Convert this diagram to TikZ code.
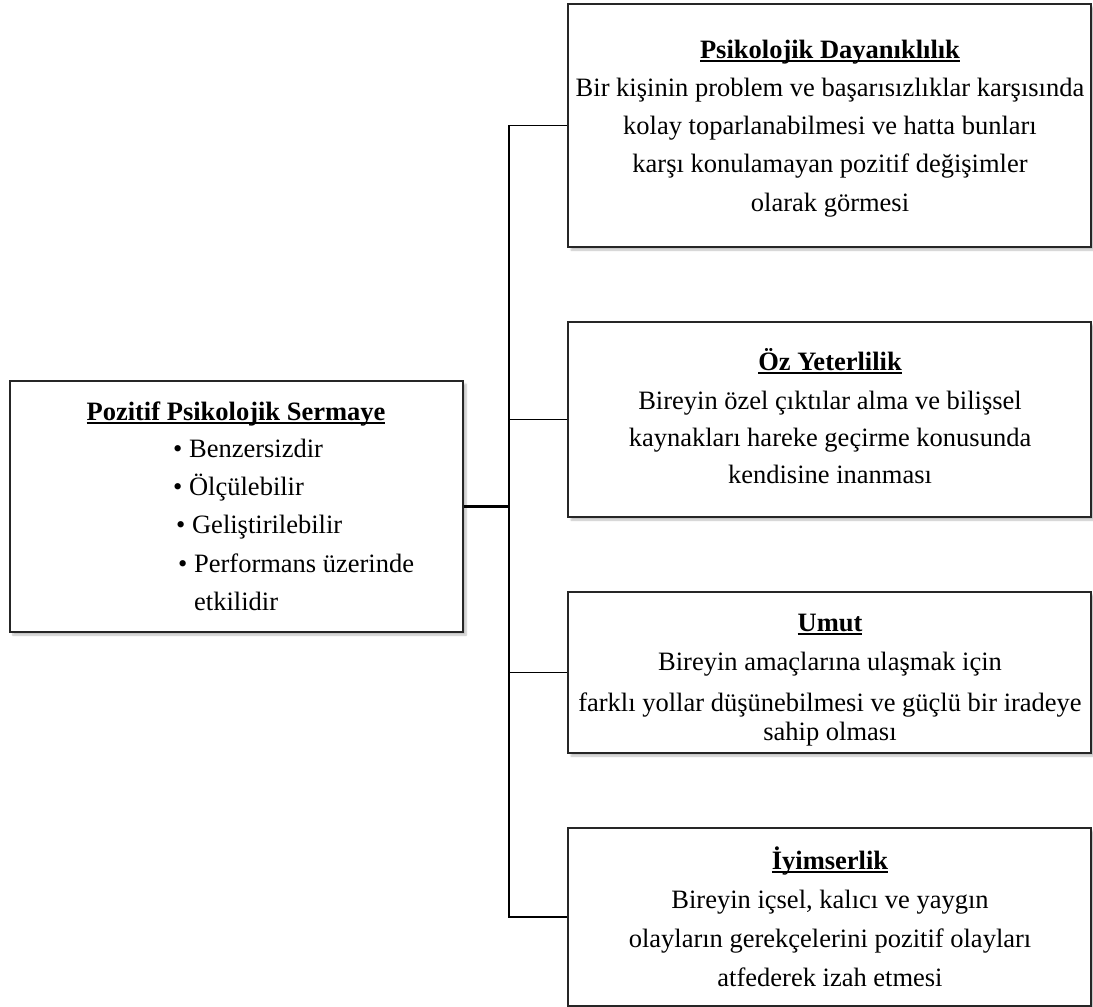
\documentclass[tikz,border=0pt]{standalone}
\usepackage{fontspec}
\setmainfont{Liberation Serif}
\usetikzlibrary{shadows.blur}
\newcommand\ulin[1]{\setbox0\hbox{#1}\rlap{\rule[-3.8pt]{\wd0}{1.4pt}}\box0}
\tikzset{
  box/.style={draw=black!85, line width=1.8pt, fill=white, rectangle, inner sep=0pt,
    blur shadow={shadow xshift=3pt, shadow yshift=-3pt, shadow blur steps=6, shadow opacity=25}},
  txt/.style={anchor=base, inner sep=0pt, font=\fontsize{26.5}{32}\selectfont},
  txtl/.style={anchor=base west, inner sep=0pt, font=\fontsize{26.5}{32}\selectfont},
  ttl/.style={anchor=base, inner sep=0pt, font=\fontsize{26.5}{32}\selectfont\bfseries},
  conn/.style={draw=black, line width=1.8pt},
}
\begin{document}
\begin{tikzpicture}[x=1pt,y=-1pt]
\useasboundingbox (0,0) rectangle (1093,1007);
% boxes
\node[box, minimum width=453pt, minimum height=251pt] (L) at (236.5,506.5) {};
\node[box, minimum width=523pt, minimum height=243pt] (B1) at (829.5,125.5) {};
\node[box, minimum width=523pt, minimum height=195pt] (B2) at (829.5,419.5) {};
\node[box, minimum width=523pt, minimum height=161pt] (B3) at (829.5,672.5) {};
\node[box, minimum width=523pt, minimum height=178pt] (B4) at (829.5,917) {};
% connectors
\coordinate (j0) at (509,506.5);
\coordinate (j1) at (B1.west -| j0);
\coordinate (j2) at (B2.west -| j0);
\coordinate (j3) at (B3.west -| j0);
\coordinate (j4) at (B4.west -| j0);
\draw[conn, line width=2.6pt] (L.east) -- (j0);
\draw[conn, line cap=rect] (j1) -- (j4);
\draw[conn] (j1) -- (B1.west);
\draw[conn] (j2) -- (B2.west);
\draw[conn] (j3) -- (B3.west);
\draw[conn] (j4) -- (B4.west);
% left box text
\node[ttl] (Lt) at (236,420) {\ulin{Pozitif Psikolojik Sermaye}};
\node[txtl] (L1) at (173,457) {• Benzersizdir};
\node[txtl] (L2) at (173,495) {• Ölçülebilir};
\node[txtl] (L3) at (176,533) {• Geliştirilebilir};
\node[txtl] (L4) at (178,572) {• Performans üzerinde};
\node[txtl] (L5) at (194,610) {etkilidir};
% box 1
\node[ttl] (B1t) at (830,58) {\ulin{Psikolojik Dayanıklılık}};
\node[txt] (B1a) at (830,96) {Bir kişinin problem ve başarısızlıklar karşısında};
\node[txt] (B1b) at (830,134) {kolay toparlanabilmesi ve hatta bunları};
\node[txt] (B1c) at (830,172) {karşı konulamayan pozitif değişimler};
\node[txt] (B1d) at (830,211) {olarak görmesi};
% box 2
\node[ttl] (B2t) at (830,370) {\ulin{Öz Yeterlilik}};
\node[txt] (B2a) at (830,409) {Bireyin özel çıktılar alma ve bilişsel};
\node[txt] (B2b) at (830,446) {kaynakları hareke geçirme konusunda};
\node[txt] (B2c) at (830,483) {kendisine inanması};
% box 3
\node[ttl] (B3t) at (830,631) {\ulin{Umut}};
\node[txt] (B3a) at (830,670) {Bireyin amaçlarına ulaşmak için};
\node[txt] (B3b) at (830,711) {farklı yollar düşünebilmesi ve güçlü bir iradeye};
\node[txt] (B3c) at (830,740) {sahip olması};
% box 4
\node[ttl] (B4t) at (830,869) {\ulin{İyimserlik}};
\node[txt] (B4a) at (830,908) {Bireyin içsel, kalıcı ve yaygın};
\node[txt] (B4b) at (830,947) {olayların gerekçelerini pozitif olayları};
\node[txt] (B4c) at (830,986) {atfederek izah etmesi};
\end{tikzpicture}
\end{document}
